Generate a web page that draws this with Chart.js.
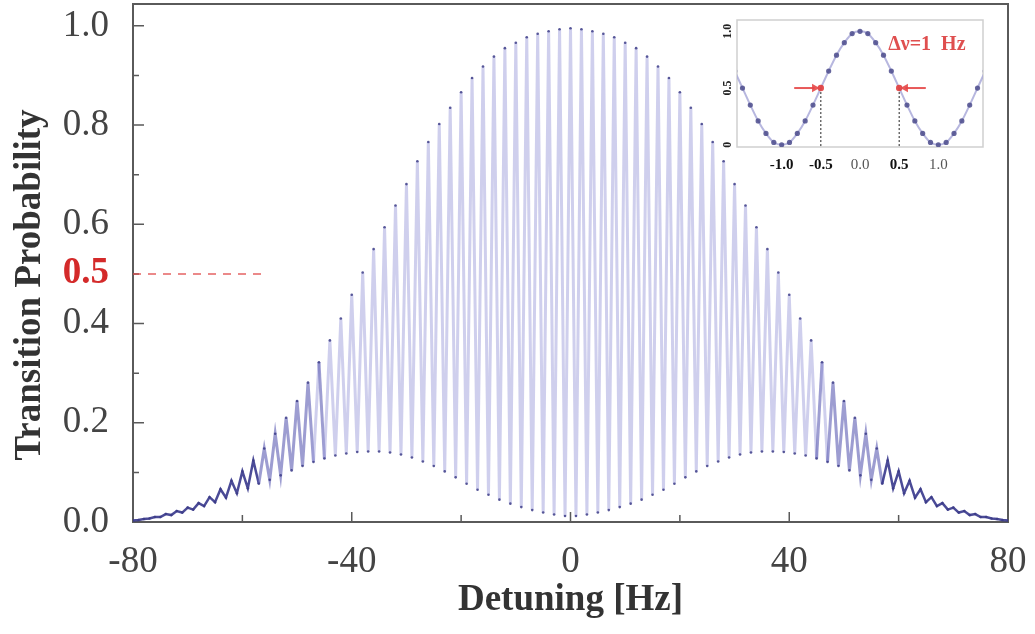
<!DOCTYPE html>
<html>
<head>
<meta charset="utf-8">
<script src="https://cdn.jsdelivr.net/npm/chart.js@4.4.0/dist/chart.umd.min.js"></script>
<style>
  body { margin: 0; background: #fff; }
  #wrap { position: relative; width: 1035px; height: 634px; }
  #main { position: absolute; left: 0; top: 0; }
  #inset { position: absolute; left: 700px; top: 0; }
</style>
</head>
<body>
<div id="wrap">
  <canvas id="main" width="1035" height="634"></canvas>
  <canvas id="inset" width="335" height="175"></canvas>
</div>
<script>
// Ramsey fringes: period 2 Hz, peaks on even detunings, minima on odd ones
const fringePeriod = 2;
const peakHz = Array.from({ length: 81 }, (_, i) => -80 + fringePeriod * i);
const troughHz = Array.from({ length: 80 }, (_, i) => -79 + fringePeriod * i);

// fringe maxima, -80 .. 80 Hz
const peakProb = [
  0.003, 0.006, 0.010, 0.016, 0.022, 0.029, 0.038, 0.050, 0.066, 0.083,
  0.102, 0.124, 0.148, 0.178, 0.210, 0.244, 0.281, 0.322, 0.366, 0.410,
  0.458, 0.503, 0.550, 0.594, 0.638, 0.681, 0.727, 0.766, 0.802, 0.835,
  0.866, 0.895, 0.918, 0.938, 0.955, 0.966, 0.977, 0.984, 0.989, 0.993,
  0.995,
  0.993, 0.989, 0.984, 0.977, 0.966, 0.955, 0.938, 0.918, 0.895, 0.866,
  0.835, 0.802, 0.766, 0.727, 0.681, 0.638, 0.594, 0.550, 0.503, 0.458,
  0.410, 0.366, 0.322, 0.281, 0.244, 0.210, 0.178, 0.148, 0.124, 0.102,
  0.083, 0.066, 0.050, 0.038, 0.029, 0.022, 0.016, 0.010, 0.006, 0.003
];
// fringe minima, -79 .. 79 Hz
const troughProb = [
  0.004, 0.007, 0.010, 0.014, 0.019, 0.025, 0.032, 0.040, 0.049, 0.058,
  0.068, 0.077, 0.085, 0.094, 0.104, 0.113, 0.121, 0.128, 0.134, 0.138,
  0.141, 0.142, 0.142, 0.140, 0.136, 0.130, 0.122, 0.113, 0.102, 0.090,
  0.077, 0.065, 0.055, 0.045, 0.037, 0.030, 0.024, 0.019, 0.015, 0.012,
  0.012, 0.015, 0.019, 0.024, 0.030, 0.037, 0.045, 0.055, 0.065, 0.077,
  0.090, 0.102, 0.113, 0.122, 0.130, 0.136, 0.140, 0.142, 0.142, 0.141,
  0.138, 0.134, 0.128, 0.121, 0.113, 0.104, 0.094, 0.085, 0.077, 0.068,
  0.058, 0.049, 0.040, 0.032, 0.025, 0.019, 0.014, 0.010, 0.007, 0.004
];

// half-height marker on the main plot
const halfLineX = [-80, -55.5];
const halfLineY = [0.5, 0.5];

// inset: central fringe, sampled every 0.1 Hz
const insetX = [-1.6, -1.5, -1.4, -1.3, -1.2, -1.1, -1.0, -0.9, -0.8, -0.7, -0.6,
  -0.5, -0.4, -0.3, -0.2, -0.1, 0, 0.1, 0.2, 0.3, 0.4, 0.5, 0.6, 0.7, 0.8, 0.9,
  1.0, 1.1, 1.2, 1.3, 1.4, 1.5, 1.6];
const insetProb = [0.65, 0.50, 0.35, 0.21, 0.10, 0.02, 0.00, 0.02, 0.10, 0.21, 0.35,
  0.50, 0.65, 0.79, 0.90, 0.98, 1.00, 0.98, 0.90, 0.79, 0.65, 0.50, 0.35, 0.21, 0.10, 0.02,
  0.00, 0.02, 0.10, 0.21, 0.35, 0.50, 0.65];
const insetTicksX = [-1.0, -0.5, 0.0, 0.5, 1.0];
const insetTicksY = [0, 0.5, 1.0];
const fwhmX = [-0.5, 0.5];
const fwhmY = 0.5;

const serif = "'Liberation Serif', 'DejaVu Serif', serif";

// zigzag through max/min of every fringe
const fringeData = [];
for (let i = 0; i < peakHz.length; i++) {
  fringeData.push({ x: peakHz[i], y: peakProb[i] });
  if (i < troughHz.length) fringeData.push({ x: troughHz[i], y: troughProb[i] });
}

const tenth = v => Math.round(v * 10);

// keep the plot box where it is, labels may hang over its edges
const noLabelPadding = s => {
  s.paddingTop = 0; s.paddingBottom = 0; s.paddingLeft = 0; s.paddingRight = 0;
};

const mainDecor = {
  id: 'mainDecor',
  beforeDatasetsDraw(chart) {
    const ctx = chart.ctx, a = chart.chartArea;
    const xs = chart.scales.x, ys = chart.scales.y;
    ctx.save();
    ctx.strokeStyle = '#5a5a5a';
    ctx.lineWidth = 1.5;
    ctx.beginPath();
    ys.ticks.forEach(t => {
      const p = ys.getPixelForValue(t.value);
      const len = tenth(t.value) % 2 === 0 ? 11 : 6;
      ctx.moveTo(a.left, p); ctx.lineTo(a.left + len, p);
    });
    xs.ticks.forEach(t => {
      const p = xs.getPixelForValue(t.value);
      const len = t.value % 40 === 0 ? 10 : 7;
      ctx.moveTo(p, a.bottom); ctx.lineTo(p, a.bottom - len);
    });
    ctx.stroke();
    ctx.lineWidth = 2;
    ctx.strokeRect(a.left, a.top, a.right - a.left, a.bottom - a.top);
    ctx.restore();
  },
  afterDraw(chart) {
    const ctx = chart.ctx;
    ctx.save();
    ctx.translate(30, 285);
    ctx.rotate(-Math.PI / 2);
    ctx.font = 'bold 37px ' + serif;
    ctx.fillStyle = '#333';
    ctx.textAlign = 'center';
    ctx.textBaseline = 'middle';
    ctx.fillText('Transition Probability', 0, 0);
    ctx.restore();
  }
};

new Chart(document.getElementById('main'), {
  type: 'line',
  data: {
    datasets: [{
      data: fringeData,
      tension: 0,
      borderWidth: 3,
      pointRadius: 1.3,
      pointBorderWidth: 0,
      pointBackgroundColor: 'rgba(60,60,135,0.85)',
      segment: {
        borderColor: c => {
          const d = Math.abs(c.p1.parsed.y - c.p0.parsed.y);
          return d < 0.06 ? 'rgba(55,55,140,0.9)' : d < 0.2 ? 'rgba(105,105,185,0.65)' : 'rgba(160,160,220,0.5)';
        },
        borderWidth: c => Math.abs(c.p1.parsed.y - c.p0.parsed.y) < 0.06 ? 2.5 : 3
      }
    }, {
      data: halfLineX.map((x, i) => ({ x, y: halfLineY[i] })),
      borderColor: 'rgba(225,70,70,0.85)',
      borderWidth: 1.5,
      borderDash: [8, 7],
      pointRadius: 0
    }]
  },
  options: {
    responsive: false,
    animation: false,
    layout: { padding: { top: 2, right: 27, left: 0, bottom: 0 } },
    plugins: { legend: { display: false }, tooltip: { enabled: false } },
    scales: {
      x: {
        type: 'linear', min: -80, max: 80,
        grid: { display: false }, border: { display: false },
        afterFit: s => { s.height = 112; noLabelPadding(s); },
        ticks: {
          stepSize: 20, autoSkip: false, maxRotation: 0, padding: 10,
          color: '#444', font: { family: serif, size: 37 },
          callback: v => v % 40 === 0 ? String(v) : ''
        },
        title: {
          display: true, text: 'Detuning [Hz]', color: '#333',
          font: { family: serif, size: 37, weight: 'bold' },
          padding: { top: 0, bottom: 11 }
        }
      },
      y: {
        min: 0, max: 1.044,
        grid: { display: false }, border: { display: false },
        afterFit: s => { s.width = 133; noLabelPadding(s); },
        ticks: {
          stepSize: 0.1, includeBounds: false, autoSkip: false, padding: 16,
          callback: v => {
            const k = tenth(v);
            return k === 5 || k % 2 === 0 ? (k / 10).toFixed(1) : '';
          },
          color: c => c.tick && tenth(c.tick.value) === 5 ? '#d42a2a' : '#444',
          font: c => ({ family: serif, size: 37, weight: c.tick && tenth(c.tick.value) === 5 ? 'bold' : 'normal' })
        }
      }
    }
  },
  plugins: [mainDecor]
});

const insetDecor = {
  id: 'insetDecor',
  beforeDatasetsDraw(chart) {
    const ctx = chart.ctx, a = chart.chartArea;
    ctx.save();
    ctx.fillStyle = '#fff';
    ctx.fillRect(a.left, a.top, a.right - a.left, a.bottom - a.top);
    ctx.strokeStyle = '#cfcfcf';
    ctx.lineWidth = 1.5;
    ctx.strokeRect(a.left, a.top, a.right - a.left, a.bottom - a.top);
    ctx.restore();
  },
  afterDraw(chart) {
    const ctx = chart.ctx, a = chart.chartArea;
    const xs = chart.scales.x, ys = chart.scales.y;
    ctx.save();
    ctx.font = 'bold 12px ' + serif;
    ctx.fillStyle = '#222';
    ctx.textAlign = 'center';
    ctx.textBaseline = 'middle';
    insetTicksY.forEach(v => {
      ctx.save();
      ctx.translate(a.left - 9, ys.getPixelForValue(v));
      ctx.rotate(-Math.PI / 2);
      ctx.fillText(v === 0 ? '0' : v.toFixed(1), 0, 0);
      ctx.restore();
    });
    ctx.font = 'bold 20px ' + serif;
    ctx.fillStyle = 'rgba(220,60,60,0.9)';
    ctx.textAlign = 'left';
    ctx.fillText('\u0394\u03bd=1  Hz', xs.getPixelForValue(0.36), ys.getPixelForValue(0.88));
    ctx.restore();
  }
};

const isHalf = c => c.raw && Math.abs(Math.abs(c.raw.x) - 0.5) < 1e-6;

new Chart(document.getElementById('inset'), {
  type: 'line',
  data: {
    datasets: [{
      order: 1,
      data: insetX.map((x, i) => ({ x, y: insetProb[i] })),
      borderColor: 'rgba(165,165,215,0.8)',
      borderWidth: 2,
      tension: 0.3,
      pointRadius: c => isHalf(c) ? 3.2 : 2.6,
      pointBorderWidth: 0,
      pointBackgroundColor: c => isHalf(c) ? 'rgba(225,60,60,0.9)' : 'rgba(75,75,140,0.85)'
    },
    ...fwhmX.map(x => ({
      order: 2,
      data: [{ x, y: fwhmY }, { x, y: -0.02 }],
      borderColor: '#222', borderWidth: 1, borderDash: [2, 2], pointRadius: 0
    })),
    ...fwhmX.map(x => ({
      order: 0,
      data: [{ x: x * 1.68, y: fwhmY }, { x: x * 1.16, y: fwhmY }],
      borderColor: 'rgba(230,70,70,0.9)', borderWidth: 2,
      pointStyle: 'triangle', pointRadius: [0, 5], pointRotation: x < 0 ? 90 : -90,
      pointBackgroundColor: 'rgba(230,70,70,0.9)', pointBorderWidth: 0
    }))]
  },
  options: {
    responsive: false,
    animation: false,
    layout: { padding: { top: 20, right: 52, left: 0, bottom: 0 } },
    plugins: { legend: { display: false }, tooltip: { enabled: false } },
    scales: {
      x: {
        type: 'linear', min: -1.57, max: 1.57,
        grid: { display: false }, border: { display: false },
        afterBuildTicks: s => { s.ticks = insetTicksX.map(v => ({ value: v })); },
        afterFit: s => { s.height = 28; noLabelPadding(s); },
        ticks: {
          autoSkip: false, maxRotation: 0, padding: 1,
          callback: v => v.toFixed(1),
          color: c => c.tick && (c.tick.value === 0 || c.tick.value === 1) ? '#555' : '#111',
          font: c => ({ family: serif, size: 15, weight: c.tick && (c.tick.value === 0 || c.tick.value === 1) ? 'normal' : 'bold' })
        }
      },
      y: {
        min: -0.02, max: 1.1,
        grid: { display: false }, border: { display: false },
        ticks: { display: false },
        afterFit: s => { s.width = 37; noLabelPadding(s); }
      }
    }
  },
  plugins: [insetDecor]
});
</script>
</body>
</html>
